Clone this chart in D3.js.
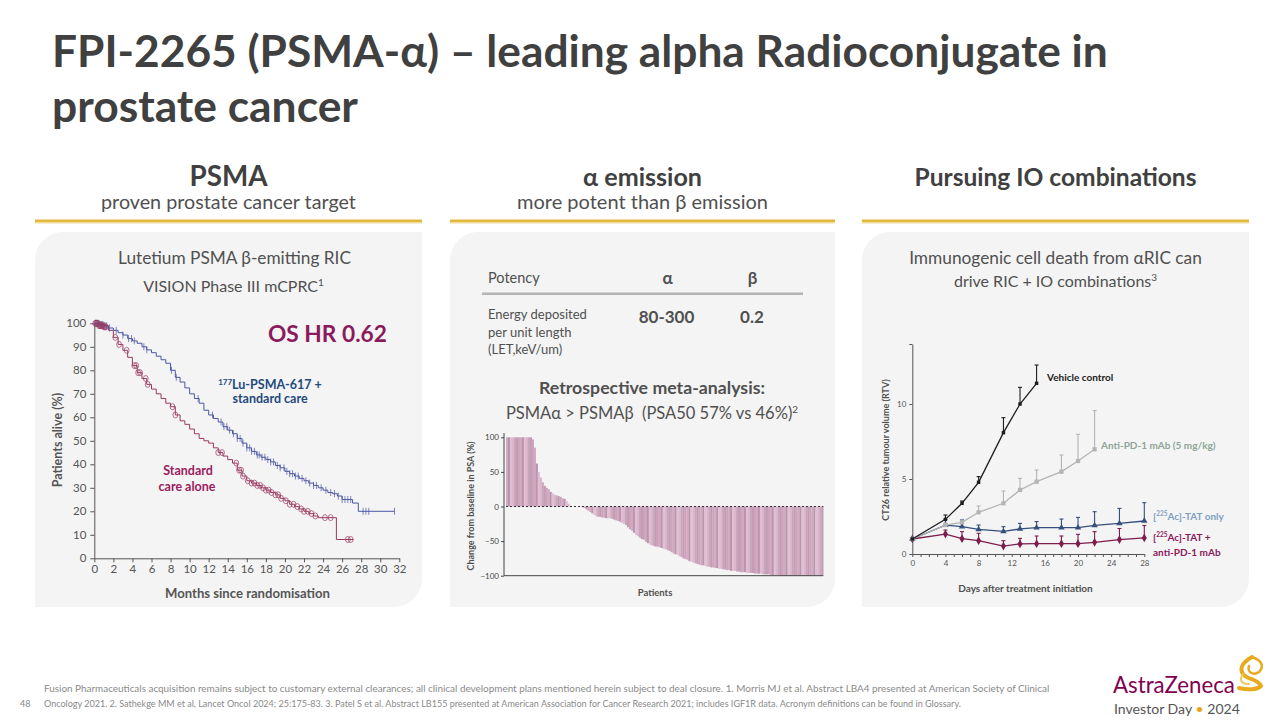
<!DOCTYPE html>
<html><head><meta charset="utf-8">
<script src="https://cdn.jsdelivr.net/npm/d3@7"></script>
<style>body{margin:0;background:#fff}svg{display:block}text{font-family:Lato,'Open Sans',sans-serif}</style>
</head><body><svg id="s" width="1280" height="720"></svg>
<script>
// ---------------- DATA ----------------
const kmBlue = [[0,100],[0.5,99.5],[1,99],[1.5,98],[2,97],[2.5,96],[3,95],[3.5,93.5],[4,92.5],[4.5,91.5],[5,90],[5.5,88.7],[6,87.5],[6.5,86],[7,84.5],[7.5,83],[8,80],[8.5,77],[9,75],[9.5,72.5],[10,70],[10.5,68],[11,66],[11.5,63],[12,61],[12.5,59.5],[13,58],[13.5,56],[14,54.5],[14.5,53],[15,51],[15.5,49],[16,47],[16.5,45.5],[17,44],[17.5,43],[18,42],[18.5,41],[19,39.5],[19.5,38.5],[20,37],[20.5,36],[21,35],[21.5,34],[22,33],[22.5,32],[23,31],[23.5,30],[24,29],[24.5,28],[25,27.5],[25.5,26.5],[26,25],[27.1,23.5],[27.7,20],[31.5,20]];
const kmRed = [[0,100],[0.5,99],[1,98.5],[1.5,97],[2,94],[2.5,91],[3,88.5],[3.5,85.5],[4,82],[4.5,79],[5,76.5],[5.5,74],[6,72],[6.5,70],[7,68],[7.5,66],[8,64.5],[8.5,61],[9,58.5],[9.5,57],[10,55],[10.5,53],[11,51],[11.5,50],[12,49],[12.5,47],[13,45],[13.5,43.5],[14,42],[14.5,40.5],[15,37.5],[15.5,35],[16,33],[16.5,32],[17,31],[17.5,30],[18,29],[18.5,28],[19,27],[19.5,25.5],[20,24.5],[20.5,23],[21,22],[21.5,21],[22,20],[22.5,19],[23,18],[23.5,17.3],[25.4,8],[27.2,8]];
const censorBlue = [0.1,0.2,0.3,0.4,0.5,0.6,0.7,0.8,0.9,1.0,1.1,1.3,1.6,2.3,3.0,3.6,3.9,4.2,5.2,5.5,8.1,8.6,10.9,12.4,13.3,13.6,13.9,14.2,14.6,15.0,15.3,15.6,16.0,16.3,16.5,16.8,17.1,17.3,17.6,17.9,18.2,18.5,18.8,19.2,19.5,19.9,20.2,20.5,20.8,21.1,21.4,21.8,22.2,22.6,23.0,23.3,23.8,24.3,24.8,25.2,25.6,26.0,26.3,26.6,26.9,28.2,28.5,28.8,31.5];
const censorRed = [0.1,0.2,0.3,0.4,0.5,0.6,0.7,0.8,0.9,1.0,1.1,1.2,2.2,2.6,3.4,4.2,4.4,4.6,4.8,5.4,5.6,8.2,8.5,13.0,13.4,14.9,15.2,15.4,15.6,16.1,16.5,16.8,17.1,17.4,17.7,18.0,18.3,18.6,19.0,19.3,19.6,20.1,20.5,20.9,21.3,21.7,22.0,22.4,22.8,23.2,24.2,24.8,26.6,26.9];
const kmXTicks = [0,2,4,6,8,10,12,14,16,18,20,22,24,26,28,30,32];
const kmYTicks = [0,10,20,30,40,50,60,70,80,90,100];

const potencyCols = ["α","β"];
const letValues = ["80-300","0.2"];

const psaChange = [100,100,100,100,100,100,100,100,100,100,100,100,100,97,85,62,50,42,35,30,27,25,21,19,17,16,15,14,12,11,8,4,
1,0,0,0,0,-0.5,-1,-2,-4,-6,-8,-10,-12,-14,-15,-15,-16,-16,-17,-17,-17,-18,-19,-20,-21,-22,-24,-25,-27,-30,-33,-35,-38,-41,-43,-45,-47,-48,
-51,-53,-55,-56,-57,-58,-58,-59,-60,-61,-62,-63,-64,-66,-68,-69,-70,-72,-73,-75,-76,-77,-79,-80,-81,-82,-83,-84,-85,-85,-86,-87,-87,-88,-88,-89,-89,-90,-90,-91,-91,-92,-92,-93,-93,-93,-94,-94,-95,-95,-95,-96,-96,-96,-96,-97,-97,-97,-97,-98,-98,-98,-98,-99,-99,-99,-99,-99,
-100,-100,-100,-100,-100,-100,-100,-100,-100,-100,-100,-100,-100,-100,-100,-100,-100,-100,-100,-100,-100,-100];
const psaTicks = [100,50,0,-50,-100];

const tumourDays = [0,4,6,8,11,13,15,18,20,22,25,28];
const vehicleMean = [1.0,2.31,3.38,4.78,8.09,10.0,11.38];
const vehicleUpper = [1.0,2.6,3.53,5.16,9.09,11.11,12.6];
const antiPd1Mean = [1.0,1.93,2.11,2.78,3.38,4.27,4.82,5.49,6.2,6.98];
const antiPd1Upper = [1.0,2.05,2.2,3.2,4.2,5.04,5.6,6.6,7.98,9.56];
const tatMean = [1.0,1.93,1.82,1.64,1.51,1.67,1.76,1.76,1.76,1.91,2.04,2.2];
const tatUpper = [1.0,2.31,2.27,1.93,1.82,2.04,2.16,2.33,2.44,2.82,3.04,3.42];
const comboMean = [1.0,1.33,1.02,0.89,0.53,0.67,0.69,0.69,0.69,0.78,0.96,1.07];
const comboUpper = [1.0,1.6,1.49,1.38,0.89,1.04,1.2,1.2,1.31,1.49,1.7,1.9];
const tumourXTicks = [0,4,8,12,16,20,24,28];
const tumourYTicks = [0,5,10];

// ---------------- HELPERS ----------------
const svg = d3.select("#s");
const FONT = "Lato,'Open Sans',sans-serif";
function txt(g, x, y, s, o = {}) {
  const t = g.append("text").attr("x", x).attr("y", y)
    .attr("font-size", o.size || 14).attr("fill", o.fill || "#555")
    .attr("font-weight", o.weight || "normal")
    .attr("text-anchor", o.anchor || "start").text(s);
  if (o.width) {
    const w = t.node().getComputedTextLength();
    t.attr("font-size", (o.size || 14) * o.width / w);
  }
  return t;
}
function panel(x, y, w, h, r) {
  svg.append("path").attr("fill", "#f4f4f4")
    .attr("d", `M${x + r},${y}H${x + w}V${y + h - r}A${r},${r} 0 0 1 ${x + w - r},${y + h}H${x}V${y + r}A${r},${r} 0 0 1 ${x + r},${y}Z`);
}

// ---------------- TITLE ----------------
txt(svg, 52, 67, "FPI-2265 (PSMA-α) – leading alpha Radioconjugate in", {size: 42, weight: "bold", fill: "#404040", width: 1056});
txt(svg, 52, 122, "prostate cancer", {size: 42, weight: "bold", fill: "#404040", width: 306});

// section headers
const sections = [
  {x0: 35, x1: 422, h: "PSMA", hw: 78, sub: "proven prostate cancer target", sw: 255},
  {x0: 450, x1: 835, h: "α emission", hw: 119, sub: "more potent than β emission", sw: 251},
  {x0: 862, x1: 1249, h: "Pursuing IO combinations", hw: 282, sub: null}
];
sections.forEach(s => {
  const cx = (s.x0 + s.x1) / 2;
  txt(svg, cx, 186, s.h, {size: 24, weight: "bold", fill: "#404040", anchor: "middle", width: s.hw});
  if (s.sub) txt(svg, cx, 209, s.sub, {size: 18, fill: "#505050", anchor: "middle", width: s.sw});
  svg.append("rect").attr("x", s.x0).attr("y", 219.5).attr("width", s.x1 - s.x0).attr("height", 3).attr("fill", "#e2b83e");
  svg.append("rect").attr("x", s.x0).attr("y", 222.5).attr("width", s.x1 - s.x0).attr("height", 1).attr("fill", "#f1dc9a");
  panel(s.x0, 232, s.x1 - s.x0, 375, 28);
});

// ---------------- LEFT: KM ----------------
{
  const g = svg.append("g");
  txt(g, 234.5, 264, "Lutetium PSMA β-emitting RIC", {size: 16, fill: "#505050", anchor: "middle", width: 233});
  const t2 = g.append("text").attr("x", 233.5).attr("y", 292).attr("text-anchor", "middle").attr("font-size", 16).attr("fill", "#505050");
  t2.append("tspan").text("VISION Phase III mCPRC");
  t2.append("tspan").attr("font-size", 10).attr("dy", -6).text("1");

  const x = d3.scaleLinear().domain([0, 32]).range([94.3, 399.3]);
  const y = d3.scaleLinear().domain([0, 100]).range([558.3, 323.3]);
  const ax = g.append("g").attr("transform", `translate(0,${y(0)})`)
    .call(d3.axisBottom(x).tickValues(kmXTicks).tickSize(4).tickSizeOuter(0).tickPadding(3));
  const ay = g.append("g").attr("transform", `translate(${x(0)},0)`)
    .call(d3.axisLeft(y).tickValues(kmYTicks).tickSize(4).tickSizeOuter(0).tickPadding(4));
  [ax, ay].forEach(a => {
    a.selectAll("path,line").attr("stroke", "#555");
    a.selectAll("text").attr("font-family", FONT).attr("font-size", 11.5).attr("fill", "#555");
  });
  txt(g, 247.5, 598, "Months since randomisation", {size: 12.5, weight: "bold", fill: "#555", anchor: "middle", width: 165});
  g.append("text").attr("transform", "translate(62,440) rotate(-90)").attr("text-anchor", "middle")
    .attr("font-size", 12.5).attr("font-weight", "bold").attr("fill", "#555").text("Patients alive (%)");

  const line = d3.line().x(d => x(d[0])).y(d => y(d[1])).curve(d3.curveStepAfter);
  const blueC = "#4b57a6", redC = "#9c3a62";
  const bis = d3.bisector(d => d[0]).right;
  const at = (arr, t) => arr[Math.max(0, bis(arr, t) - 1)][1];
  g.append("path").attr("d", line(kmRed)).attr("fill", "none").attr("stroke", redC).attr("stroke-width", 1);
  g.append("path").attr("d", line(kmBlue)).attr("fill", "none").attr("stroke", blueC).attr("stroke-width", 1);
  g.selectAll(".cb").data(censorBlue).join("line")
    .attr("x1", d => x(d)).attr("x2", d => x(d))
    .attr("y1", d => y(at(kmBlue, d)) - 3.5).attr("y2", d => y(at(kmBlue, d)) + 3.5)
    .attr("stroke", blueC).attr("stroke-width", 1).attr("opacity", 0.7);
  g.selectAll(".cr").data(censorRed).join("ellipse")
    .attr("cx", d => x(d)).attr("cy", d => y(at(kmRed, d))).attr("rx", 2.4).attr("ry", 3)
    .attr("fill", "none").attr("stroke", redC).attr("stroke-width", 0.9).attr("opacity", 0.8);

  txt(g, 268, 342, "OS HR 0.62", {size: 26, weight: "bold", fill: "#8a1a5c", width: 119});
  const lb = g.append("text").attr("x", 270).attr("y", 389).attr("text-anchor", "middle").attr("font-size", 12.5).attr("font-weight", "bold").attr("fill", "#1f4a7c");
  lb.append("tspan").attr("font-size", 8).attr("dy", -4).text("177");
  lb.append("tspan").attr("dy", 4).text("Lu-PSMA-617 +");
  txt(g, 270, 403, "standard care", {size: 12.5, weight: "bold", fill: "#1f4a7c", anchor: "middle"});
  txt(g, 188, 475, "Standard", {size: 12.5, weight: "bold", fill: "#9b1b5e", anchor: "middle"});
  txt(g, 187, 491, "care alone", {size: 12.5, weight: "bold", fill: "#9b1b5e", anchor: "middle"});
}

// ---------------- MIDDLE ----------------
{
  const g = svg.append("g");
  txt(g, 488, 283, "Potency", {size: 14.5, fill: "#505050"});
  const colX = [667.5, 752.5];
  potencyCols.forEach((c, i) => txt(g, colX[i], 284, c, {size: 17, weight: "bold", fill: "#505050", anchor: "middle"}));
  g.append("rect").attr("x", 482).attr("y", 292.5).attr("width", 321).attr("height", 2.5).attr("fill", "#b4b4b4");
  ["Energy deposited", "per unit length", "(LET,keV/um)"].forEach((s, i) =>
    txt(g, 488, 319 + i * 17.5, s, {size: 13, fill: "#505050"}));
  letValues.forEach((v, i) => txt(g, colX[i] - (i ? 0.5 : 1), 323, v, {size: 17, weight: "bold", fill: "#505050", anchor: "middle"}));
  txt(g, 652, 394, "Retrospective meta-analysis:", {size: 17, weight: "bold", fill: "#505050", anchor: "middle", width: 226});
  const t = g.append("text").attr("x", 652).attr("y", 419).attr("text-anchor", "middle").attr("font-size", 16.5).attr("fill", "#505050");
  t.append("tspan").text("PSMAα > PSMAβ  (PSA50 57% vs 46%)").attr("xml:space", "preserve");
  t.append("tspan").attr("font-size", 10).attr("dy", -6).text("2");

  const x = d3.scaleBand().domain(d3.range(psaChange.length)).range([506, 823.3]).padding(0);
  const y = d3.scaleLinear().domain([-100, 100]).range([575.7, 437.3]);
  const shades = ["#d3a8c2", "#c19cb2", "#ddb6cd", "#b797aa", "#cea2bd", "#c8a7bb", "#e2bdd3"];
  g.selectAll(".bar").data(psaChange).join("rect")
    .attr("x", (d, i) => x(i)).attr("width", x.bandwidth() + 0.2)
    .attr("y", d => y(Math.max(0, d))).attr("height", d => Math.abs(y(d) - y(0)))
    .attr("fill", (d, i) => shades[(i * 3) % 7]);
  g.append("line").attr("x1", 506).attr("x2", 823.3).attr("y1", y(0)).attr("y2", y(0))
    .attr("stroke", "#333").attr("stroke-dasharray", "2,2").attr("stroke-width", 1);
  g.append("line").attr("x1", 504).attr("x2", 823.3).attr("y1", y(-100)).attr("y2", y(-100)).attr("stroke", "#444");
  const ay = g.append("g").attr("transform", "translate(504,0)")
    .call(d3.axisLeft(y).tickValues(psaTicks).tickSize(3).tickSizeOuter(0).tickPadding(2));
  ay.select(".domain").attr("d", `M0,${433}V${y(-100)}`);
  ay.selectAll("path,line").attr("stroke", "#444");
  ay.selectAll("text").attr("font-family", FONT).attr("font-size", 8).attr("fill", "#444");
  g.append("text").attr("transform", "translate(474,506) rotate(-90)").attr("text-anchor", "middle")
    .attr("font-size", 9).attr("font-weight", "bold").attr("fill", "#505050").text("Change from baseline in PSA (%)");
  txt(g, 655, 596, "Patients", {size: 9.5, weight: "bold", fill: "#505050", anchor: "middle"});
}

// ---------------- RIGHT ----------------
{
  const g = svg.append("g");
  txt(g, 1055.5, 264, "Immunogenic cell death from αRIC can", {size: 16, fill: "#505050", anchor: "middle", width: 293});
  const t2 = g.append("text").attr("x", 1055.5).attr("y", 287).attr("text-anchor", "middle").attr("font-size", 16).attr("fill", "#505050");
  t2.append("tspan").text("drive RIC + IO combinations");
  t2.append("tspan").attr("font-size", 10).attr("dy", -6).text("3");

  const x = d3.scaleLinear().domain([0, 28]).range([912.3, 1144.3]);
  const y = d3.scaleLinear().domain([0, 14]).range([554, 344]);
  const ax = g.append("g").attr("transform", `translate(0,${y(0)})`)
    .call(d3.axisBottom(x).tickValues(d3.range(0, 29, 1)).tickSize(3).tickSizeOuter(0).tickPadding(3)
      .tickFormat(d => tumourXTicks.includes(d) ? d : ""));
  const ay = g.append("g").attr("transform", `translate(${x(0)},0)`)
    .call(d3.axisLeft(y).tickValues(tumourYTicks.concat([14])).tickSize(3).tickSizeOuter(0).tickPadding(3)
      .tickFormat(d => tumourYTicks.includes(d) ? d : ""));
  [ax, ay].forEach(a => {
    a.selectAll("path,line").attr("stroke", "#555");
    a.selectAll("text").attr("font-family", FONT).attr("font-size", 8).attr("fill", "#555");
  });
  g.append("text").attr("transform", "translate(889,450) rotate(-90)").attr("text-anchor", "middle")
    .attr("font-size", 9).attr("font-weight", "bold").attr("fill", "#505050").text("CT26 relative tumour volume (RTV)");
  txt(g, 1025.5, 592, "Days after treatment initiation", {size: 10, weight: "bold", fill: "#505050", anchor: "middle"});

  const series = [
    {mean: comboMean, up: comboUpper, c: "#7c1d4c", sym: d3.symbolDiamond, sz: 22},
    {mean: tatMean, up: tatUpper, c: "#35507c", sym: d3.symbolTriangle, sz: 18},
    {mean: antiPd1Mean, up: antiPd1Upper, c: "#b4b4b4", sym: d3.symbolSquare, sz: 18},
    {mean: vehicleMean, up: vehicleUpper, c: "#1e1e1e", sym: d3.symbolSquare, sz: 12}
  ];
  const line = d3.line().x(d => x(d[0])).y(d => y(d[1]));
  series.forEach(s => {
    const pts = s.mean.map((v, i) => [tumourDays[i], v, s.up[i]]);
    g.append("path").attr("d", line(pts)).attr("fill", "none").attr("stroke", s.c).attr("stroke-width", 1.3);
    pts.slice(1).forEach(p => {
      g.append("line").attr("x1", x(p[0])).attr("x2", x(p[0])).attr("y1", y(p[1])).attr("y2", y(p[2])).attr("stroke", s.c).attr("stroke-width", 1.1);
      g.append("line").attr("x1", x(p[0]) - 2).attr("x2", x(p[0]) + 2).attr("y1", y(p[2])).attr("y2", y(p[2])).attr("stroke", s.c).attr("stroke-width", 1.1);
    });
    g.selectAll(null).data(pts).join("path")
      .attr("transform", d => `translate(${x(d[0])},${y(d[1])})`)
      .attr("d", d3.symbol(s.sym, s.sz)).attr("fill", s.c);
  });
  txt(g, 1047, 381, "Vehicle control", {size: 10, weight: "bold", fill: "#222"});
  txt(g, 1101, 449, "Anti-PD-1 mAb (5 mg/kg)", {size: 10, weight: "bold", fill: "#8ea597"});
  const sup = (yy, c, rest) => {
    const t = g.append("text").attr("x", 1153).attr("y", yy).attr("font-size", 10).attr("font-weight", "bold").attr("fill", c);
    t.append("tspan").text("[");
    t.append("tspan").attr("font-size", 6.5).attr("dy", -4).text("225");
    t.append("tspan").attr("dy", 4).text(rest);
  };
  sup(520, "#7f9fc2", "Ac]-TAT only");
  sup(541, "#8a1a5c", "Ac]-TAT +");
  txt(g, 1153, 556, "anti-PD-1 mAb", {size: 10, weight: "bold", fill: "#8a1a5c"});
}

// ---------------- FOOTER ----------------
txt(svg, 20, 707, "48", {size: 9, fill: "#888"});
txt(svg, 44, 692, "Fusion Pharmaceuticals acquisition remains subject to customary external clearances; all clinical development plans mentioned herein subject to deal closure. 1. Morris MJ et al. Abstract LBA4 presented at American Society of Clinical", {size: 9, fill: "#8a8a8a", width: 1006});
txt(svg, 44, 707, "Oncology 2021. 2. Sathekge MM et al, Lancet Oncol 2024; 25:175-83. 3. Patel S et al. Abstract LB155 presented at American Association for Cancer Research 2021; includes IGF1R data. Acronym definitions can be found in Glossary.", {size: 9, fill: "#8a8a8a", width: 918});

// logo
txt(svg, 1113, 693, "AstraZeneca", {size: 24, fill: "#830051", width: 122});
const inv = svg.append("text").attr("x", 1114).attr("y", 714).attr("font-size", 16).attr("fill", "#555");
inv.append("tspan").text("Investor Day ");
inv.append("tspan").attr("fill", "#e8a317").text("•");
inv.append("tspan").text(" 2024");
{
  const n = inv.node(), w = n.getComputedTextLength();
  inv.attr("font-size", 16 * 126 / w);
}
const lg = svg.append("g").attr("fill", "none").attr("stroke", "#e9ab1d").attr("stroke-linecap", "round").attr("stroke-linejoin", "round");
lg.append("path").attr("stroke-width", 4).attr("d", "M1252,657 C1243,662 1239,668 1243,674 C1247,680 1257,678 1261,686 C1257,690 1247,690 1239,688");
lg.append("path").attr("stroke-width", 2.5).attr("d", "M1252,657 C1261,660 1265,666 1259,672 C1253,676 1247,672 1249,666");
lg.append("path").attr("stroke-width", 2).attr("stroke", "#f3c85a").attr("d", "M1243,674 C1239,680 1241,684 1249,684");
</script></body></html>
